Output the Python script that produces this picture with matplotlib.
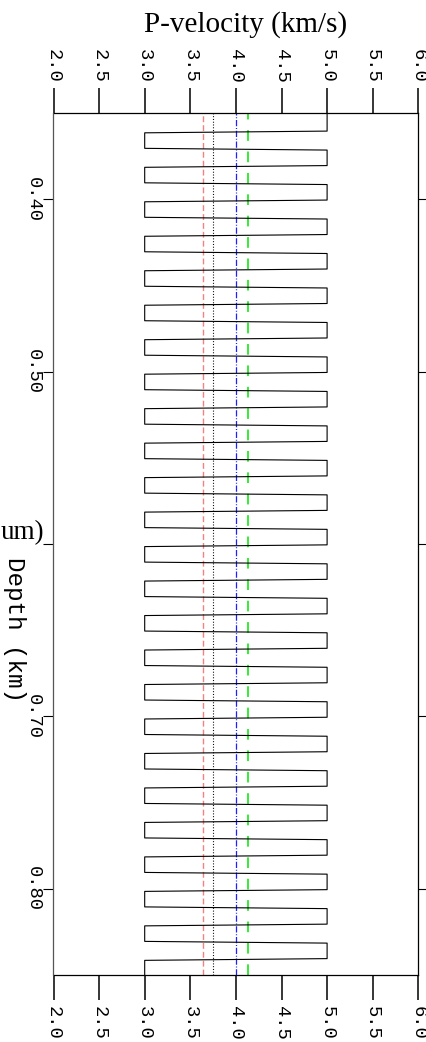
import matplotlib
matplotlib.use("Agg")
import matplotlib.pyplot as plt

# ---------------- data ----------------
layer_top_km = [0.35, 0.36, 0.37, 0.38, 0.39, 0.40, 0.41, 0.42, 0.43, 0.44,
                0.45, 0.46, 0.47, 0.48, 0.49, 0.50, 0.51, 0.52, 0.53, 0.54,
                0.55, 0.56, 0.57, 0.58, 0.59, 0.60, 0.61, 0.62, 0.63, 0.64,
                0.65, 0.66, 0.67, 0.68, 0.69, 0.70, 0.71, 0.72, 0.73, 0.74,
                0.75, 0.76, 0.77, 0.78, 0.79, 0.80, 0.81, 0.82, 0.83, 0.84]
layer_vp_kms = [5.0, 3.0, 5.0, 3.0, 5.0, 3.0, 5.0, 3.0, 5.0, 3.0,
                5.0, 3.0, 5.0, 3.0, 5.0, 3.0, 5.0, 3.0, 5.0, 3.0,
                5.0, 3.0, 5.0, 3.0, 5.0, 3.0, 5.0, 3.0, 5.0, 3.0,
                5.0, 3.0, 5.0, 3.0, 5.0, 3.0, 5.0, 3.0, 5.0, 3.0,
                5.0, 3.0, 5.0, 3.0, 5.0, 3.0, 5.0, 3.0, 5.0, 3.0]
model_base_km = 0.85

avg_vp_kms = [3.636, 3.75, 4.0, 4.136]

x_ticks = [2.0, 2.5, 3.0, 3.5, 4.0, 4.5, 5.0, 5.5, 6.0]
x_ticklabels = ["2.0", "2.5", "3.0", "3.5", "4.0", "4.5", "5.0", "5.5", "6.0"]
depth_ticks = [0.40, 0.50, 0.60, 0.70, 0.80]
depth_ticklabels = ["0.40", "0.50", "", "0.70", "0.80"]

title_text = "P-velocity (km/s)"
ylabel_text = "Depth (km)"
side_text = "um)"

# ---------------- style ----------------
W, H, DPI = 427, 1042, 100
RAMP_START = 0.0005
RAMP_LEN = 0.001
TICK_FONT = "Liberation Mono"
SERIF = "Liberation Serif"

plt.rcParams["font.family"] = [TICK_FONT, "DejaVu Sans"]

fig = plt.figure(figsize=(W / DPI, H / DPI), dpi=DPI)
x0, x1, y0, y1 = 53.5, 418.3, 113.0, 975.0
ax = fig.add_axes([x0 / W, 1 - y1 / H, (x1 - x0) / W, (y1 - y0) / H])

# profile polyline (step model with short linear transitions)
n = len(layer_top_km)
zs, vs = [], []
for i, (top, vp) in enumerate(zip(layer_top_km, layer_vp_kms)):
    bot = layer_top_km[i + 1] if i + 1 < n else model_base_km
    z0 = top + (RAMP_START + RAMP_LEN if i > 0 else 0.0)
    z1 = bot + (RAMP_START if i + 1 < n else 0.0)
    zs += [z0, z1]
    vs += [vp, vp]
ax.plot(vs, zs, color="black", lw=0.8, zorder=3)

# average velocity lines
line_styles = [
    dict(color="#f26b6b", lw=1.0, dashes=(4.2, 2.2), alpha=0.85),
    dict(color="black", lw=0.8, dashes=(0.9, 1.6)),
    dict(color="#1f1fff", lw=0.9, dashes=(5.0, 1.4, 0.8, 1.4)),
    dict(color="#00e600", lw=1.1, dashes=(7.0, 7.0)),
]
for v, st in zip(avg_vp_kms, line_styles):
    ax.axvline(v, zorder=2, **st)

ax.set_xlim(2.0, 6.0)
ax.set_ylim(model_base_km, layer_top_km[0])

ax.set_xticks(x_ticks)
ax.set_xticklabels(x_ticklabels)
ax.set_yticks(depth_ticks)
ax.set_yticklabels(depth_ticklabels)

ax.tick_params(axis="x", which="major", top=True, bottom=True,
               labeltop=True, labelbottom=True, direction="out",
               length=18, width=1.1, pad=4, labelsize=13.5,
               labelrotation=-90)
ax.tick_params(axis="y", which="major", left=True, right=True,
               labelleft=True, labelright=False, direction="out",
               length=7.2, width=0.8, pad=1.5, labelsize=13.5,
               labelrotation=-90)
for lbl in ax.get_yticklabels():
    lbl.set_va("center")

for sp in ax.spines.values():
    sp.set_linewidth(0.9)
ax.spines["left"].set_color("#555555")

fig.text(246 / W, 1 - 31.7 / H, title_text, family=SERIF, fontsize=21,
         ha="center", va="baseline")
fig.text(0.5 / W, 1 - 539 / H, side_text, family=SERIF, fontsize=19.5,
         ha="left", va="baseline")
fig.text(26 / W, 1 - 557 / H, ylabel_text, family=TICK_FONT, fontsize=17.5,
         rotation=-90, ha="right", va="top")

fig.savefig("out.png", dpi=DPI)
